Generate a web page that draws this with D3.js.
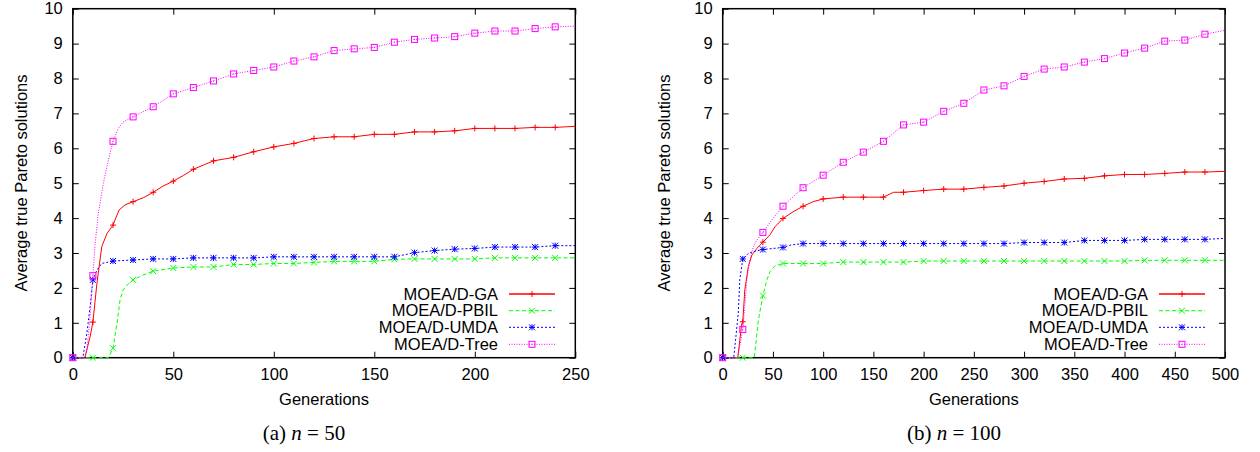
<!DOCTYPE html>
<html>
<head>
<meta charset="utf-8">
<script src="https://cdn.jsdelivr.net/npm/d3@7"></script>
<style>
  body { margin: 0; background: #fff; }
  text { font-family: "Liberation Sans", Arial, sans-serif; }
</style>
</head>
<body>
<script>
// legend names, same order for both panels
const seriesNames = ["MOEA/D-GA", "MOEA/D-PBIL", "MOEA/D-UMDA", "MOEA/D-Tree"];
const yTicks = [0, 1, 2, 3, 4, 5, 6, 7, 8, 9, 10];
const xTicksA = [0, 50, 100, 150, 200, 250];
const xTicksB = [0, 50, 100, 150, 200, 250, 300, 350, 400, 450, 500];

// (a) n = 50 -- [generation, avg true pareto solutions]
const gaA = [[0,0],[6,0],[8.6,0.6],[10,1.02],[12,2.13],[14.4,3.18],[17,3.56],[20,3.80],[23,4.23],[26,4.38],[30,4.47],[35,4.58],[40,4.74],[45,4.92],[50,5.06],[55,5.22],[60,5.40],[65,5.52],[70,5.64],[80,5.74],[90,5.90],[100,6.04],[110,6.14],[120,6.28],[130,6.33],[140,6.33],[150,6.40],[160,6.40],[170,6.47],[180,6.47],[190,6.50],[200,6.57],[210,6.57],[220,6.57],[230,6.60],[240,6.60],[250,6.63]];
const pbilA = [[0,0],[10,0],[17.7,0],[20,0.27],[22,0.99],[23.5,1.65],[25,1.94],[27,2.08],[30,2.23],[35,2.37],[40,2.48],[50,2.57],[60,2.60],[70,2.60],[80,2.67],[90,2.67],[100,2.70],[110,2.70],[120,2.73],[130,2.76],[140,2.76],[150,2.76],[160,2.82],[170,2.83],[180,2.83],[190,2.83],[200,2.83],[210,2.86],[220,2.86],[230,2.86],[240,2.86],[250,2.86]];
const umdaA = [[0,0],[5,0],[7,0.70],[8.6,1.46],[10,2.23],[12,2.51],[14.4,2.70],[20,2.77],[30,2.80],[40,2.83],[50,2.83],[60,2.86],[70,2.86],[80,2.86],[90,2.86],[100,2.89],[110,2.89],[120,2.89],[130,2.89],[140,2.89],[150,2.89],[160,2.89],[170,3.01],[180,3.07],[190,3.11],[200,3.13],[210,3.17],[220,3.17],[230,3.17],[240,3.21],[250,3.21]];
const treeA = [[0,0],[6,0],[7,0.22],[8.6,1.17],[10,2.35],[11,3.2],[12.7,4.14],[15.2,5.0],[17.7,5.66],[20,6.20],[22.6,6.57],[25,6.75],[30,6.90],[35,7.05],[40,7.19],[50,7.56],[60,7.74],[70,7.93],[80,8.13],[90,8.23],[100,8.33],[110,8.50],[120,8.62],[130,8.80],[140,8.85],[150,8.89],[160,9.04],[170,9.12],[180,9.16],[190,9.20],[200,9.30],[210,9.36],[220,9.36],[230,9.43],[240,9.48],[250,9.50]];

// (b) n = 100
const gaB = [[0,0],[15,0],[19,0.98],[20,1.03],[22,1.94],[25.5,2.61],[29,2.94],[34,3.13],[40,3.31],[47,3.52],[52,3.75],[60,3.99],[70,4.18],[80,4.34],[90,4.47],[100,4.55],[120,4.60],[140,4.60],[160,4.60],[170,4.74],[180,4.74],[200,4.79],[220,4.83],[240,4.83],[260,4.88],[280,4.92],[300,5.00],[320,5.05],[340,5.12],[360,5.14],[380,5.21],[400,5.25],[420,5.25],[440,5.28],[460,5.32],[480,5.32],[500,5.34]];
const pbilB = [[0,0],[20,0],[31.5,0],[35.5,1.08],[40,1.78],[44,2.23],[47,2.46],[52,2.63],[60,2.70],[80,2.70],[100,2.70],[120,2.74],[140,2.74],[160,2.74],[180,2.74],[200,2.77],[220,2.77],[240,2.77],[260,2.77],[280,2.77],[300,2.77],[320,2.77],[340,2.77],[360,2.77],[380,2.77],[400,2.77],[420,2.79],[440,2.79],[460,2.79],[480,2.79],[500,2.79]];
const umdaB = [[0,0],[11,0],[15.5,1.27],[17,2.23],[20,2.83],[25.5,2.99],[32,3.05],[40,3.10],[60,3.16],[68,3.23],[80,3.27],[100,3.27],[120,3.27],[140,3.27],[160,3.27],[180,3.27],[200,3.27],[220,3.27],[240,3.27],[260,3.27],[280,3.27],[300,3.30],[320,3.30],[340,3.30],[360,3.36],[380,3.36],[400,3.36],[420,3.39],[440,3.39],[460,3.39],[480,3.39],[500,3.42]];
const treeB = [[0,0],[15,0],[20,0.81],[22,1.46],[24,2.23],[27,2.80],[30.5,3.18],[34,3.37],[40,3.59],[49,3.95],[60,4.34],[72,4.66],[80,4.87],[100,5.23],[120,5.60],[140,5.89],[160,6.20],[180,6.67],[200,6.75],[220,7.06],[240,7.29],[260,7.67],[280,7.79],[300,8.06],[320,8.27],[340,8.33],[360,8.47],[380,8.57],[400,8.73],[420,8.87],[440,9.07],[460,9.10],[480,9.27],[500,9.38]];

// gnuplot-ish styles: colour, dash, point type
const styles = [
  {color: "#ff0000", dash: null,      pt: "plus"},
  {color: "#00ff00", dash: "4,2.5",   pt: "cross"},
  {color: "#0000ff", dash: "2,2",     pt: "star"},
  {color: "#ff00ff", dash: "1,1.5",   pt: "box"}
];

const svg = d3.select("body").append("svg").attr("width", 1260).attr("height", 452);

function drawMarker(g, type, color, x, y) {
  const s = 3;
  const m = g.append("g").attr("transform", `translate(${x},${y})`)
    .attr("stroke", color).attr("fill", "none").attr("stroke-width", 1);
  if (type === "plus" || type === "star")
    m.append("path").attr("d", `M${-s},0H${s}M0,${-s}V${s}`);
  if (type === "cross" || type === "star")
    m.append("path").attr("d", `M${-s},${-s}L${s},${s}M${-s},${s}L${s},${-s}`);
  if (type === "box") {
    m.append("rect").attr("x", -s).attr("y", -s).attr("width", 2 * s).attr("height", 2 * s);
    m.append("rect").attr("x", -0.5).attr("y", -0.5).attr("width", 1).attr("height", 1).attr("fill", color).attr("stroke", "none");
  }
}

function drawPanel(p) {
  const x = d3.scaleLinear().domain([0, p.xmax]).range([p.left, p.right]);
  const y = d3.scaleLinear().domain([0, 10]).range([357.7, 8.7]);
  const g = svg.append("g");

  // axes, ticks pointing inward on all 4 sides
  const axes = [
    [d3.axisBottom(x).tickValues(p.xTicks), 357.7, "y"],
    [d3.axisTop(x).tickValues(p.xTicks).tickFormat(""), 8.7, "y"],
    [d3.axisLeft(y).tickValues(yTicks), p.left, "x"],
    [d3.axisRight(y).tickValues(yTicks).tickFormat(""), p.right, "x"]
  ];
  axes.forEach(([ax, pos, dir]) => {
    const a = g.append("g")
      .attr("transform", dir === "y" ? `translate(0,${pos})` : `translate(${pos},0)`)
      .call(ax.tickSizeInner(-6).tickSizeOuter(0).tickPadding(dir === "y" ? 10.5 : 10));
    a.select(".domain").remove();
    a.selectAll("line").attr("stroke", "#000");
    a.selectAll("text").attr("fill", "#000").style("font-size", "16.5px")
      .style("font-family", '"Liberation Sans", Arial, sans-serif');
  });

  g.append("rect").attr("x", p.left).attr("y", 8.7)
    .attr("width", p.right - p.left).attr("height", 357.7 - 8.7)
    .attr("fill", "none").attr("stroke", "#000").attr("stroke-width", 1.5);

  const line = d3.line().x(d => x(d[0])).y(d => y(d[1]));
  p.series.forEach((data, i) => {
    const st = styles[i];
    g.append("path").datum(data).attr("d", line)
      .attr("fill", "none").attr("stroke", st.color).attr("stroke-width", 1)
      .attr("stroke-dasharray", st.dash);
    data.filter(d => d[0] % p.step === 0 && d[0] < p.xmax)
      .forEach(d => drawMarker(g, st.pt, st.color, x(d[0]), y(d[1])));
  });

  // legend
  const rows = [294, 310.7, 327.3, 344.3];
  seriesNames.forEach((name, i) => {
    const st = styles[i];
    g.append("text").attr("x", p.legendX).attr("y", rows[i]).attr("dy", "0.35em")
      .attr("text-anchor", "end").style("font-size", "16.5px").text(name);
    g.append("line").attr("x1", p.legendX + 11).attr("x2", p.legendX + 57)
      .attr("y1", rows[i]).attr("y2", rows[i])
      .attr("stroke", st.color).attr("stroke-width", i === 0 ? 1.6 : 1)
      .attr("stroke-dasharray", st.dash);
    drawMarker(g, st.pt, st.color, p.legendX + 34, rows[i]);
  });

  g.append("text").attr("x", (p.left + p.right) / 2).attr("y", 405)
    .attr("text-anchor", "middle").style("font-size", "16.5px").text("Generations");
  g.append("text").attr("transform", `translate(${p.yLabelX},183) rotate(-90)`)
    .attr("text-anchor", "middle").style("font-size", "16.5px").text("Average true Pareto solutions");

  const cap = g.append("text").attr("x", p.capX).attr("y", 440).attr("text-anchor", "middle")
    .style("font-family", '"Liberation Serif", "DejaVu Serif", serif').style("font-size", "21px");
  cap.append("tspan").text(p.caption[0] + " ");
  cap.append("tspan").style("font-style", "italic").text("n");
  cap.append("tspan").text(" = " + p.caption[1]);
}

drawPanel({left: 72.8, right: 575.3, xmax: 250, xTicks: xTicksA, step: 10,
  series: [gaA, pbilA, umdaA, treeA], legendX: 498, yLabelX: 27, capX: 304, caption: ["(a)", "50"]});
drawPanel({left: 722.7, right: 1225, xmax: 500, xTicks: xTicksB, step: 20,
  series: [gaB, pbilB, umdaB, treeB], legendX: 1148, yLabelX: 670, capX: 954, caption: ["(b)", "100"]});
</script>
</body>
</html>
